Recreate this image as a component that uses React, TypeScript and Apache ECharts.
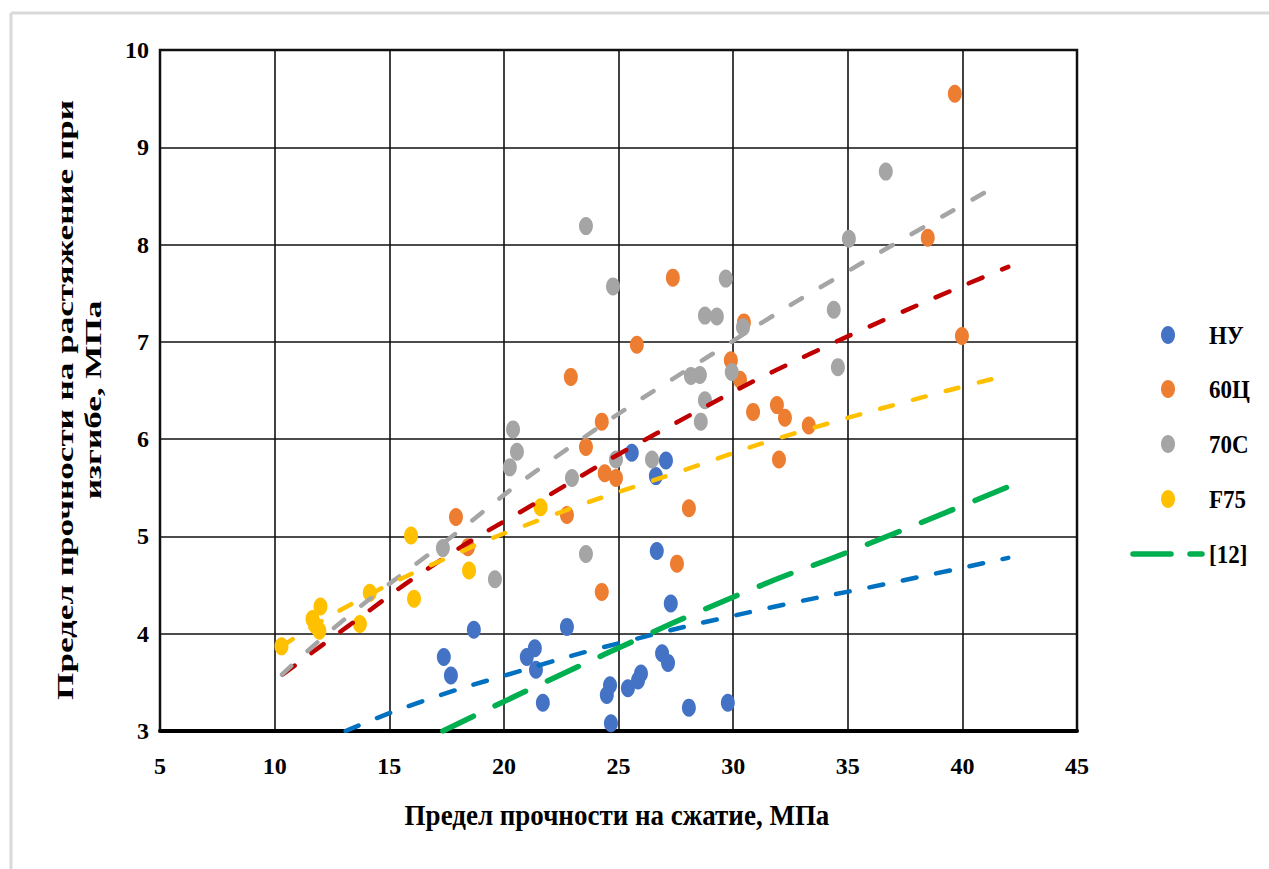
import React, { useEffect, useRef } from "react";
import * as echarts from "echarts";

// ---------- data ----------
const xTicks = { min: 5, max: 45, step: 5 };
const yTicks = { min: 3, max: 10, step: 1 };

const seriesNames = ["НУ", "60Ц", "70С", "F75"];
const trendName = "[12]";

const nuPoints: number[][] = [
  [17.38, 3.76], [17.69, 3.57], [18.69, 4.04], [21.0, 3.76], [21.35, 3.85], [21.4, 3.63],
  [21.7, 3.29], [22.75, 4.07], [24.49, 3.37], [24.63, 3.47], [24.67, 3.08], [25.41, 3.44],
  [25.58, 5.86], [25.85, 3.52], [25.98, 3.59], [26.63, 5.62], [26.67, 4.85], [26.9, 3.8],
  [27.07, 5.78], [27.16, 3.7], [27.28, 4.31], [28.07, 3.24], [29.77, 3.29],
];
const c60Points: number[][] = [
  [17.91, 5.2], [18.43, 4.89], [22.75, 5.22], [22.92, 6.64], [23.58, 5.92], [24.27, 6.18],
  [24.27, 4.43], [24.4, 5.65], [24.89, 5.6], [25.8, 6.97], [27.37, 7.66], [27.55, 4.72],
  [28.07, 5.29], [29.9, 6.81], [30.3, 6.61], [30.47, 7.2], [30.87, 6.28], [31.91, 6.35],
  [32.0, 5.79], [32.26, 6.22], [33.3, 6.14], [38.49, 8.07], [39.67, 9.55], [39.98, 7.06],
];
const s70Points: number[][] = [
  [17.34, 4.88], [19.61, 4.56], [20.26, 5.71], [20.4, 6.1], [20.57, 5.87], [22.97, 5.6],
  [23.58, 4.82], [23.58, 8.19], [24.76, 7.57], [24.89, 5.79], [26.46, 5.79], [28.16, 6.65],
  [28.55, 6.66], [28.59, 6.18], [28.77, 6.4], [28.77, 7.27], [29.29, 7.26], [29.68, 7.65],
  [29.94, 6.69], [30.43, 7.15], [34.39, 7.33], [34.57, 6.74], [35.05, 8.06], [36.66, 8.75],
];
const f75Points: number[][] = [
  [10.3, 3.87], [11.65, 4.15], [11.8, 4.08], [12.0, 4.28], [11.95, 4.03], [13.72, 4.1],
  [14.15, 4.42], [15.95, 5.01], [16.08, 4.36], [18.48, 4.65], [21.6, 5.3],
];

// trend lines
const nuTrend: number[][] = [[13.1, 3.0], [16.25, 3.29], [20.61, 3.61], [25.15, 3.91], [31.08, 4.24], [37.05, 4.53], [42, 4.78]];
const c60Trend: number[][] = [[10.35, 3.58], [13.16, 4.07], [17.08, 4.73], [21.22, 5.32], [26.67, 6.06], [33.48, 6.89], [42, 7.77]];
const s70Trend: number[][] = [[10.32, 3.58], [13.16, 4.17], [17.08, 4.88], [22.23, 5.81], [29.93, 7.0], [35.61, 7.81], [41.4, 8.59]];
const f75Trend: number[][] = [[10.32, 3.87], [13.16, 4.28], [17.34, 4.76], [21.57, 5.17], [27.46, 5.65], [33.26, 6.1], [42, 6.66]];
const ref12Trend: number[][] = [[17.34, 3.0], [24.32, 3.78], [30.64, 4.44], [35.44, 4.88], [42, 5.51]];

const markerColors = ["#4472C4", "#ED7D31", "#A5A5A5", "#FFC000"];
const trendColors = ["#0070C0", "#C00000", "#A5A5A5", "#FFC000"];
const greenColor = "#00B050";

const xTitle = "Предел прочности на сжатие, МПа";
const yTitle1 = "Предел прочности на растяжение при";
const yTitle2 = "изгибе, МПа";

const FONT = '"Liberation Serif", "Times New Roman", serif';

function measure(text: string, font: string): number {
  const c = document.createElement("canvas");
  const ctx = c.getContext("2d");
  if (!ctx) return text.length * 12;
  ctx.font = font;
  return ctx.measureText(text).width;
}

export default function App() {
  const ref = useRef<HTMLDivElement>(null);
  useEffect(() => {
    if (!ref.current) return;
    const chart = echarts.init(ref.current, undefined, { renderer: "svg" });

    const yFont = `bold 24px ${FONT}`;
    const y1w = measure(yTitle1, yFont);
    const yScale = 600 / y1w;

    const scatterData = [nuPoints, c60Points, s70Points, f75Points];
    const trends = [nuTrend, c60Trend, s70Trend, f75Trend];
    const dashes = [[14, 20], [15, 21], [13, 22], [13, 21]];

    const series: any[] = [];
    scatterData.forEach((d, i) => {
      series.push({
        name: seriesNames[i],
        type: "scatter",
        data: d,
        symbol: "circle",
        symbolSize: [14, 18],
        itemStyle: { color: markerColors[i], opacity: 1 },
        z: 2,
      });
    });
    trends.forEach((d, i) => {
      series.push({
        name: seriesNames[i] + " trend",
        type: "line",
        data: d,
        smooth: true,
        showSymbol: false,
        symbol: "none",
        lineStyle: { color: trendColors[i], width: 4.5, type: dashes[i], cap: "round" },
        z: 3,
      });
    });
    series.push({
      name: trendName,
      type: "line",
      data: ref12Trend,
      smooth: true,
      showSymbol: false,
      symbol: "none",
      lineStyle: { color: greenColor, width: 5.5, type: [34, 24], cap: "round" },
      z: 3,
    });

    const legendY = [335, 389, 444, 499];
    const legendEls: any[] = [];
    seriesNames.forEach((n, i) => {
      legendEls.push({
        type: "ellipse",
        shape: { cx: 1168, cy: legendY[i], rx: 7, ry: 9 },
        style: { fill: markerColors[i] },
      });
      legendEls.push({
        type: "text",
        x: 1209,
        y: legendY[i],
        scaleY: 1.1,
        style: { text: n, font: `bold 23px ${FONT}`, fill: "#000", textAlign: "left", textVerticalAlign: "middle" },
      });
    });
    legendEls.push({
      type: "line",
      shape: { x1: 1133, y1: 554, x2: 1171, y2: 554 },
      style: { stroke: greenColor, lineWidth: 5.5, lineCap: "round" },
    });
    legendEls.push({
      type: "line",
      shape: { x1: 1190, y1: 554, x2: 1202, y2: 554 },
      style: { stroke: greenColor, lineWidth: 5.5, lineCap: "round" },
    });
    legendEls.push({
      type: "text",
      x: 1209,
      y: 554,
      scaleY: 1.1,
      style: { text: trendName, font: `bold 23px ${FONT}`, fill: "#000", textAlign: "left", textVerticalAlign: "middle" },
    });

    const option: any = {
      animation: false,
      backgroundColor: "#fff",
      grid: { left: 160, right: 192, top: 50, bottom: 138, show: true, borderColor: "#111", borderWidth: 2.5, backgroundColor: "transparent" },
      xAxis: {
        type: "value",
        min: xTicks.min,
        max: xTicks.max,
        interval: xTicks.step,
        axisLine: { show: true, onZero: false, lineStyle: { color: "#000", width: 4 } },
        axisTick: { show: false },
        splitLine: { show: true, lineStyle: { color: "#111", width: 1.6 } },
        axisLabel: { fontFamily: FONT, fontWeight: "bold", fontSize: 24, color: "#000", margin: 23 },
      },
      yAxis: {
        type: "value",
        min: yTicks.min,
        max: yTicks.max,
        interval: yTicks.step,
        axisLine: { show: false },
        axisTick: { show: false },
        splitLine: { show: true, lineStyle: { color: "#111", width: 1.6 } },
        axisLabel: { fontFamily: FONT, fontWeight: "bold", fontSize: 24, color: "#000", margin: 11 },
      },
      series,
      graphic: [
        {
          type: "line",
          shape: { x1: 11, y1: 13, x2: 1269, y2: 13 },
          style: { stroke: "#D9D9D9", lineWidth: 3 },
          silent: true,
        },
        {
          type: "line",
          shape: { x1: 11, y1: 13, x2: 11, y2: 869 },
          style: { stroke: "#D9D9D9", lineWidth: 3 },
          silent: true,
        },
        {
          type: "text",
          x: 617,
          y: 815,
          scaleY: 1.1,
          style: { text: xTitle, font: `bold 27px ${FONT}`, fill: "#000", textAlign: "center", textVerticalAlign: "middle" },
        },
        {
          type: "text",
          x: 65,
          y: 400,
          rotation: Math.PI / 2,
          scaleX: yScale,
          style: { text: yTitle1, font: yFont, fill: "#000", textAlign: "center", textVerticalAlign: "middle" },
        },
        {
          type: "text",
          x: 93,
          y: 400,
          rotation: Math.PI / 2,
          scaleX: yScale,
          style: { text: yTitle2, font: yFont, fill: "#000", textAlign: "center", textVerticalAlign: "middle" },
        },
        ...legendEls,
      ],
    };
    chart.setOption(option);
    return () => chart.dispose();
  }, []);
  return (
    <div
      ref={ref}
      style={{ position: "absolute", left: 0, top: 0, width: 1269, height: 869, background: "#fff" }}
    />
  );
}
